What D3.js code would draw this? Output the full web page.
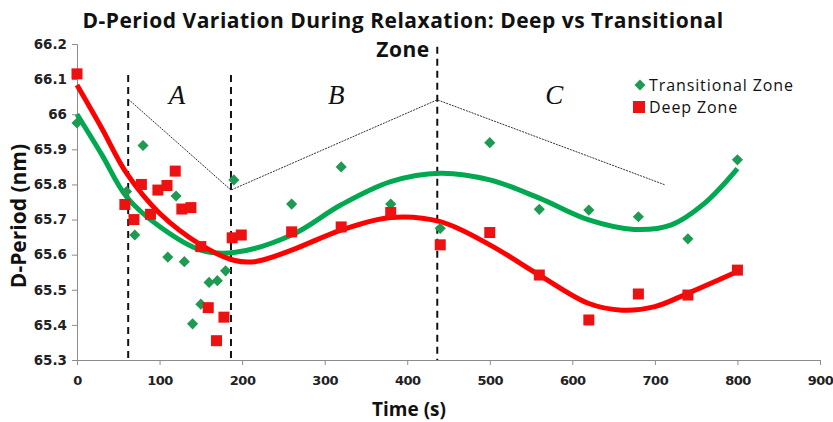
<!DOCTYPE html>
<html><head><meta charset="utf-8">
<script src="https://cdn.jsdelivr.net/npm/d3@7"></script>
<style>body{margin:0;background:#fff}</style>
</head><body>
<svg id="c" width="833" height="422"></svg>
<script>
// ---- data ----
const transTime = [0, 60, 70, 80, 110, 120, 130, 140, 150, 160, 170, 180, 190, 260, 320, 380, 440, 500, 560, 620, 680, 740, 800];
const transVal  = [65.975, 65.78, 65.656, 65.911, 65.593, 65.767, 65.58, 65.403, 65.459, 65.521, 65.526, 65.554, 65.813, 65.744, 65.85, 65.744, 65.675, 65.919, 65.729, 65.727, 65.708, 65.645, 65.87];
const deepTime = [0, 58, 69, 78, 89, 98, 109, 119, 127, 138, 150, 159, 169, 178, 188, 199, 260, 320, 380, 440, 500, 560, 620, 680, 740, 800];
const deepVal  = [66.115, 65.743, 65.70, 65.80, 65.715, 65.784, 65.797, 65.838, 65.73, 65.734, 65.623, 65.449, 65.355, 65.422, 65.648, 65.656, 65.665, 65.679, 65.72, 65.628, 65.663, 65.542, 65.414, 65.488, 65.485, 65.556];
// trend curves
const transFitTime = [0, 30, 60, 100, 150, 190, 260, 320, 380, 440, 500, 560, 620, 675, 720, 760, 800];
const transFitVal  = [66.0, 65.885, 65.765, 65.68, 65.613, 65.606, 65.656, 65.742, 65.808, 65.832, 65.813, 65.761, 65.699, 65.672, 65.685, 65.746, 65.845];
const deepFitTime = [0, 30, 60, 100, 150, 190, 215, 260, 320, 380, 440, 500, 560, 620, 660, 700, 740, 800];
const deepFitVal  = [66.083, 65.96, 65.832, 65.718, 65.628, 65.584, 65.58, 65.613, 65.67, 65.706, 65.694, 65.628, 65.542, 65.461, 65.442, 65.452, 65.49, 65.552];
// phase boundaries and guide line
const phaseTime = [62, 186.5, 436.4];
const phaseTop  = [66.112, 66.112, 66.192];
const guideTime = [62, 186.5, 436.4, 712];
const guideVal  = [66.043, 65.784, 66.041, 65.799];
const phaseLabels = ["A", "B", "C"];
const phaseLabelTime = [121, 314, 578];
const phaseLabelVal = 66.03;
const xTicks = [0, 100, 200, 300, 400, 500, 600, 700, 800, 900];
const yTicks = [65.3, 65.4, 65.5, 65.6, 65.7, 65.8, 65.9, 66.0, 66.1, 66.2];
const seriesNames = ["Transitional Zone", "Deep Zone"];
const titleLines = ["D-Period Variation During Relaxation: Deep vs Transitional", "Zone"];

// ---- chart ----
const svg = d3.select("#c");
const x = d3.scaleLinear().domain([0, 900]).range([77, 820]);
const y = d3.scaleLinear().domain([65.3, 66.2]).range([360, 44]);
const GREEN = "#00a850", GREEN_M = "#1f9a52", RED = "#ff0000", RED_M = "#ee1111";
const sans = "'Open Sans', Lato, sans-serif";

// axes
const xAxis = svg.append("g").attr("transform", `translate(0,${y(65.3)})`)
  .call(d3.axisBottom(x).tickValues(xTicks).tickSize(5).tickFormat(d3.format("d")));
const yAxis = svg.append("g").attr("transform", `translate(${x(0)},0)`)
  .call(d3.axisLeft(y).tickValues(yTicks).tickSize(5).tickFormat(d => d3.format("")(+d.toFixed(1))));
[xAxis, yAxis].forEach(g => {
  g.selectAll("path,line").attr("stroke", "#8c8c8c").attr("stroke-width", 1);
  g.selectAll("text").attr("fill", "#222").style("font-family", "'DejaVu Sans', sans-serif")
    .style("font-weight", "bold").style("font-size", "13.5px");
});
xAxis.selectAll("text").attr("dy", "1.3em").style("font-size", "13px").style("letter-spacing", "-0.5px");
yAxis.selectAll("text").attr("x", -10);

// phase dashed lines
svg.append("g").selectAll("line").data(phaseTime).join("line")
  .attr("x1", d => x(d)).attr("x2", d => x(d))
  .attr("y1", (d, i) => y(phaseTop[i])).attr("y2", y(65.3))
  .attr("stroke", "#111").attr("stroke-width", 2).attr("stroke-dasharray", "7,5");

// guide dotted line
svg.append("path").datum(guideTime.map((t, i) => [t, guideVal[i]]))
  .attr("d", d3.line().x(d => x(d[0])).y(d => y(d[1])))
  .attr("fill", "none").attr("stroke", "#333").attr("stroke-width", 1).attr("stroke-dasharray", "2,1");

// phase labels
svg.append("g").selectAll("text").data(phaseLabels).join("text")
  .attr("x", (d, i) => x(phaseLabelTime[i])).attr("y", y(phaseLabelVal))
  .attr("text-anchor", "middle")
  .style("font-family", "'Liberation Serif', 'Times New Roman', serif")
  .style("font-style", "italic").style("font-size", "27px").attr("fill", "#111").text(d => d);

// fitted curves
const lineT = d3.line().x(d => x(d[0])).y(d => y(d[1])).curve(d3.curveCatmullRom.alpha(0.5));
svg.append("path").datum(transFitTime.map((t, i) => [t, transFitVal[i]]))
  .attr("d", lineT).attr("fill", "none").attr("stroke", GREEN).attr("stroke-width", 5);
svg.append("path").datum(deepFitTime.map((t, i) => [t, deepFitVal[i]]))
  .attr("d", lineT).attr("fill", "none").attr("stroke", RED).attr("stroke-width", 5);

// markers
svg.append("g").selectAll("path").data(transTime.map((t, i) => [t, transVal[i]])).join("path")
  .attr("d", d3.symbol().type(d3.symbolSquare).size(62))
  .attr("transform", d => `translate(${x(d[0])},${y(d[1])}) rotate(45)`)
  .attr("fill", GREEN_M);
svg.append("g").selectAll("rect").data(deepTime.map((t, i) => [t, deepVal[i]])).join("rect")
  .attr("x", d => x(d[0]) - 5.5).attr("y", d => y(d[1]) - 5.5)
  .attr("width", 11).attr("height", 11).attr("fill", RED_M);

// legend
const leg = svg.append("g");
leg.append("path").attr("d", d3.symbol().type(d3.symbolSquare).size(60)())
  .attr("transform", "translate(640,85) rotate(45)").attr("fill", GREEN_M);
leg.append("rect").attr("x", 633).attr("y", 101).attr("width", 12).attr("height", 12).attr("fill", RED_M);
leg.selectAll("text").data(seriesNames).join("text")
  .attr("x", 649).attr("y", (d, i) => 85 + i * 22).attr("dy", "0.35em")
  .style("font-family", sans).style("font-size", "16px").style("letter-spacing", "0.9px")
  .attr("fill", "#111").text(d => d);

// title
svg.append("g").selectAll("text").data(titleLines).join("text")
  .attr("x", 403).attr("y", (d, i) => 27.5 + i * 29).attr("text-anchor", "middle")
  .style("font-family", sans).style("font-weight", "bold").style("font-size", "21px")
  .style("letter-spacing", "0.5px").attr("fill", "#111").text(d => d);

// axis titles
svg.append("text").attr("x", 409).attr("y", 416).attr("text-anchor", "middle")
  .style("font-family", sans).style("font-weight", "bold").style("font-size", "19px").attr("fill", "#111").text("Time (s)");
svg.append("text").attr("transform", `translate(26,${y(65.71)}) rotate(-90)`).attr("text-anchor", "middle")
  .style("font-family", sans).style("font-weight", "bold").style("font-size", "21px").attr("fill", "#111").text("D-Period (nm)");
</script>
</body></html>
